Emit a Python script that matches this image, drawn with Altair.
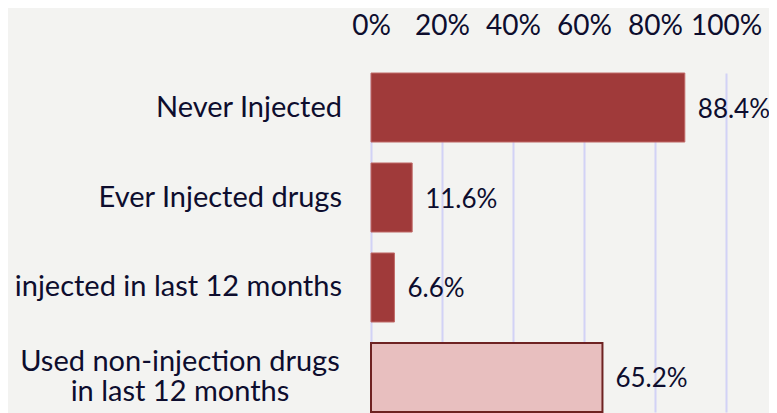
import altair as alt
import pandas as pd

categories = [
    "Never Injected",
    "Ever Injected drugs",
    "injected in last 12 months",
    "Used non-injection drugs\nin last 12 months",
]
values = [0.884, 0.116, 0.066, 0.652]
value_labels = ["88.4%", "11.6%", "6.6%", "65.2%"]
groups = ["injection", "injection", "injection", "non-injection"]
x_ticks = [0, 0.2, 0.4, 0.6, 0.8, 1.0]

df = pd.DataFrame({
    "category": categories,
    "value": values,
    "label": value_labels,
    "group": groups,
    "multiline": [False, False, False, True],
})

FONT = "Lato"
TEXT = "#0d0d2e"

yscale = alt.Scale(domain=categories, range=[10, 349], paddingInner=0.233, paddingOuter=0)
y = alt.Y("category:N", scale=yscale, axis=None)

bars = alt.Chart(df).mark_bar().encode(
    x=alt.X(
        "value:Q",
        scale=alt.Scale(domain=[0, 1], nice=False),
        axis=alt.Axis(
            orient="top", format="%", values=x_ticks, title=None,
            domain=False, ticks=False, tickSize=0,
            labelPadding=29, labelBaseline="alphabetic",
            labelFlush=False, labelOverlap=False,
            labelFont=FONT, labelFontSize=28, labelColor=TEXT,
            grid=True, gridColor="#d2d2f6", gridWidth=2,
        ),
    ),
    y=y,
    color=alt.Color(
        "group:N",
        scale=alt.Scale(domain=["injection", "non-injection"], range=["#a03a3a", "#e8bfbf"]),
        legend=None,
    ),
    stroke=alt.Stroke(
        "group:N",
        scale=alt.Scale(domain=["injection", "non-injection"], range=["#c06a68", "#6e2222"]),
        legend=None,
    ),
    strokeWidth=alt.StrokeWidth(
        "group:N",
        scale=alt.Scale(domain=["injection", "non-injection"], range=[1, 2]),
        legend=None,
    ),
)

vals = alt.Chart(df).mark_text(
    align="left", baseline="middle", dx=13, dy=2,
    font=FONT, fontSize=26, color=TEXT,
).encode(x="value:Q", y=y, text="label:N")

cat_single = alt.Chart(df).transform_filter("!datum.multiline").mark_text(
    align="right", baseline="middle", font=FONT, fontSize=29, color=TEXT,
).encode(x=alt.value(-29), y=y, text="category:N")

cat_multi = alt.Chart(df).transform_filter("datum.multiline").mark_text(
    align="center", baseline="middle", font=FONT, fontSize=29, color=TEXT,
    lineBreak="\n", lineHeight=30, dy=-15,
).encode(x=alt.value(-191), y=y, text="category:N")

chart = alt.layer(bars, vals, cat_single, cat_multi).properties(
    width=355, height=350,
    autosize="none",
    padding={"left": 363, "top": 55, "right": 43, "bottom": 0},
    background="#f3f3f1",
).configure_view(stroke=None)

chart.save("out.html", embed_options={"renderer": "svg", "actions": False})
